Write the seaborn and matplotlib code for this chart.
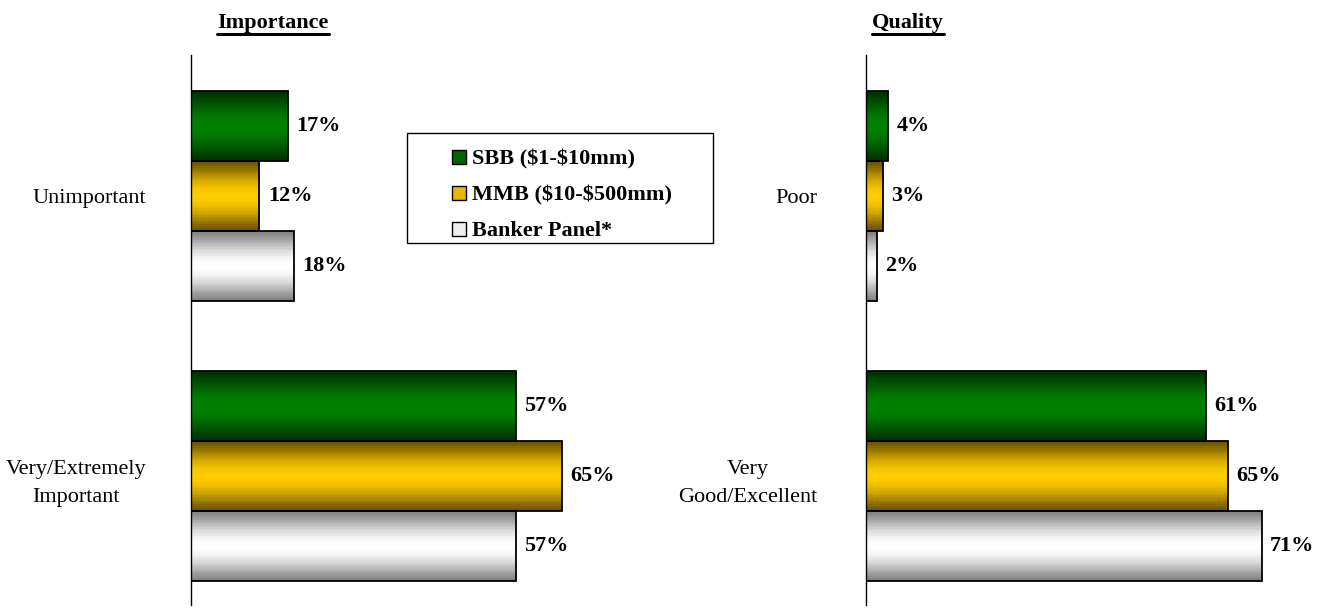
import numpy as np
import pandas as pd
import seaborn as sns
import matplotlib.pyplot as plt
from matplotlib.colors import to_rgb
from matplotlib.patches import Patch, Rectangle
from matplotlib.lines import Line2D

# ---- data ----
series = ["SBB ($1-$10mm)", "MMB ($10-$500mm)", "Banker Panel*"]

imp_categories = ["Unimportant", "Very/Extremely\nImportant"]
imp_sbb = [17, 57]
imp_mmb = [12, 65]
imp_banker = [18, 57]

qual_categories = ["Poor", "Very\nGood/Excellent"]
qual_sbb = [4, 61]
qual_mmb = [3, 65]
qual_banker = [2, 71]

# bar colours: middle shade and edge shade of the gradient
bright = ["#008000", "#ffcc00", "#ffffff"]
dark = ["#003000", "#6b5200", "#808080"]
legend_fill = ["#006400", "#e6b800", "#eeeeee"]


def long_df(cats, a, b, c):
    rows = []
    for s, vals in zip(series, [a, b, c]):
        for cat, v in zip(cats, vals):
            rows.append({"cat": cat, "series": s, "value": v})
    return pd.DataFrame(rows)


df_imp = long_df(imp_categories, imp_sbb, imp_mmb, imp_banker)
df_qual = long_df(qual_categories, qual_sbb, qual_mmb, qual_banker)

sns.set_style("white")
plt.rcParams["font.family"] = ["Liberation Serif", "DejaVu Serif"]
plt.rcParams["text.parse_math"] = False
plt.rcParams["text.color"] = "black"
plt.rcParams["ytick.color"] = "black"
plt.rcParams["ytick.labelcolor"] = "black"

fig = plt.figure(figsize=(13.25, 6.13), dpi=100)
ax1 = fig.add_axes([0.1442, 0.0130, 0.3442, 0.8972])
ax2 = fig.add_axes([0.6536, 0.0130, 0.3366, 0.8972])

N_STRIPS = 40


def strip_colors(d, b):
    t = (np.arange(N_STRIPS) + 0.5) / N_STRIPS
    f = np.sin(np.pi * t) ** 1.3
    d, b = np.array(to_rgb(d)), np.array(to_rgb(b))
    return d[None, :] + (b - d)[None, :] * f[:, None]


def draw_panel(ax, df, cats, pad):
    sns.barplot(data=df, y="cat", x="value", hue="series", hue_order=series,
                order=cats, orient="h", width=0.75, palette=bright,
                edgecolor="black", linewidth=1.3, legend=False, ax=ax)
    containers = list(ax.containers)
    for i, cont in enumerate(containers):
        cols = strip_colors(dark[i], bright[i])
        for bar in cont:
            x0, y0 = bar.get_x(), bar.get_y()
            w, h = bar.get_width(), bar.get_height()
            dh = h / N_STRIPS
            ys = y0 + dh * (np.arange(N_STRIPS) + 0.5)
            # shaded fill: thin strips inside the bar, outline stays on top
            ax.barh(ys, w, height=dh * 1.02, left=x0, color=cols,
                    linewidth=0, antialiased=False,
                    zorder=bar.get_zorder() - 0.1)
            bar.set_facecolor("none")
            bar.set_zorder(bar.get_zorder() + 0.2)
        ax.bar_label(cont, fmt="{:.0f}%", padding=6, fontsize=16,
                     fontweight="bold", color="black")
    ax.set_xlim(0, 80)
    ax.set_ylim(1.46, -0.504)
    ax.set_xlabel("")
    ax.set_ylabel("")
    ax.set_xticks([])
    for s in ["top", "right", "bottom"]:
        ax.spines[s].set_visible(False)
    ax.spines["left"].set_color("black")
    ax.spines["left"].set_linewidth(1)
    ax.tick_params(axis="y", length=0, pad=pad, labelsize=16,
                   labelcolor="black")
    for t in ax.get_yticklabels():
        t.set_horizontalalignment("right")
        t.set_multialignment("center")
        t.set_linespacing(1.65)
        t.set_verticalalignment("center_baseline")
    ax.set_facecolor("none")


draw_panel(ax1, df_imp, imp_categories, 32)
draw_panel(ax2, df_qual, qual_categories, 35)

# legend: frame drawn as its own box, entries inside
handles = [Patch(facecolor=legend_fill[i], edgecolor="black", linewidth=1)
           for i in range(3)]
W, H = 1325, 613
fig.add_artist(Rectangle((407 / W, 1 - 243 / H), 306 / W, 110 / H,
                         transform=fig.transFigure, facecolor="white",
                         edgecolor="black", linewidth=1, zorder=5))
leg = fig.legend(handles, series, loc="upper left",
                 bbox_to_anchor=(448 / W, 1 - 145 / H),
                 frameon=False, prop={"weight": "bold", "size": 16},
                 handlelength=0.6, handleheight=0.6, handletextpad=0.3,
                 labelspacing=0.72, borderpad=0.2, borderaxespad=0)
leg.set_zorder(6)
for txt in leg.get_texts():
    txt.set_color("black")

# titles with underline
titles = [("Importance", 273), ("Quality", 908)]
fig.canvas.draw()
for txt, xc in titles:
    t = fig.text(xc / W, 1 - 23 / H, txt, ha="center", va="center",
                 fontsize=16, fontweight="bold", color="black")
    fig.canvas.draw()
    bb = t.get_window_extent().transformed(fig.transFigure.inverted())
    y = bb.y0 - 0.001
    fig.add_artist(Line2D([bb.x0, bb.x1], [y, y], transform=fig.transFigure,
                          color="black", linewidth=2.2))

fig.savefig("out.png", dpi=100)
